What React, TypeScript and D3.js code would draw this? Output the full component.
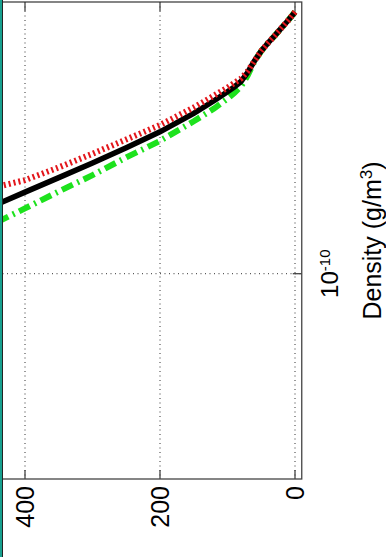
import React from "react";
import * as d3 from "d3";

// altitude (km) and density profiles (g/m^3)
const altitude = [0, 10, 20, 30, 40, 50, 60, 70, 80, 90, 100, 120, 150, 200, 250, 300, 350, 400, 440];
const densityMean = [
  7.45e-10, 6.99e-10, 6.59e-10, 6.21e-10, 5.87e-10, 5.52e-10, 5.12e-10, 4.69e-10, 4.37e-10, 4.19e-10,
  4.04e-10, 3.77e-10, 3.42e-10, 2.97e-10, 2.63e-10, 2.34e-10, 2.09e-10, 1.87e-10, 1.71e-10,
];
const densityHigh = [
  7.45e-10, 6.99e-10, 6.59e-10, 6.21e-10, 5.87e-10, 5.52e-10, 5.12e-10, 4.73e-10, 4.47e-10, 4.32e-10,
  4.17e-10, 3.92e-10, 3.58e-10, 3.13e-10, 2.8e-10, 2.51e-10, 2.26e-10, 2.05e-10, 1.95e-10,
];
const densityLow = [
  7.45e-10, 6.99e-10, 6.59e-10, 6.21e-10, 5.87e-10, 5.52e-10, 5.1e-10, 4.58e-10, 4.21e-10, 4.0e-10,
  3.83e-10, 3.55e-10, 3.22e-10, 2.77e-10, 2.44e-10, 2.13e-10, 1.88e-10, 1.65e-10, 1.49e-10,
];
const altTicks = [0, 200, 400];
const densityTicks = [1e-10];

const W = 386;
const H = 557;
const font = "'Liberation Sans', Arial, Helvetica, sans-serif";

export default function App() {
  // the figure is rotated: altitude runs right-to-left, density bottom-to-top
  const x = d3.scaleLinear().domain([440, -10]).range([-2, 301.75]);
  const y = d3.scaleLog().domain([2.07e-11, 8.04e-10]).range([479, 2]);

  const [x0, x1] = x.range();
  const [y0, y1] = y.range();

  const line = (vals: number[]) =>
    d3.line<number>()
      .x((d, i) => x(altitude[i]))
      .y((d) => y(d))(vals) || "";

  return (
    <div style={{ position: "fixed", left: 0, top: 0 }}>
      <svg width={W} height={H} style={{ display: "block", background: "#fff" }}>
        {/* grid */}
        {altTicks.map((t) => (
          <line key={"gx" + t} x1={x(t)} x2={x(t)} y1={y1} y2={y0}
            stroke="#333" strokeWidth={1} strokeDasharray="1,3.5" />
        ))}
        {densityTicks.map((t) => (
          <line key={"gy" + t} x1={x0} x2={x1} y1={y(t)} y2={y(t)}
            stroke="#333" strokeWidth={1} strokeDasharray="1,3.5" />
        ))}

        {/* curves */}
        <path d={line(densityLow)} fill="none" stroke="#1de21d" strokeWidth={6}
          strokeDasharray="12,5,2,5" />
        <path d={line(densityMean)} fill="none" stroke="#000" strokeWidth={5.5} />
        <path d={line(densityHigh)} fill="none" stroke="#e3161b" strokeWidth={6}
          strokeDasharray="2,3" />

        {/* box */}
        <rect x={x0} y={y1} width={x1 - x0} height={y0 - y1} fill="none" stroke="#444" strokeWidth={1.3} />

        {/* ticks */}
        {altTicks.map((t) => (
          <g key={"t" + t}>
            <line x1={x(t)} x2={x(t)} y1={y0} y2={y0 - 9} stroke="#444" strokeWidth={1.3} />
            <line x1={x(t)} x2={x(t)} y1={y1} y2={y1 + 9} stroke="#444" strokeWidth={1.3} />
            <text transform={`translate(${x(t)},486) rotate(-90)`} textAnchor="end"
              dominantBaseline="central" fontFamily={font} fontSize={25} fill="#000">
              {t}
            </text>
          </g>
        ))}
        {densityTicks.map((t) => (
          <g key={"d" + t}>
            <line x1={x1} x2={x1 - 9} y1={y(t)} y2={y(t)} stroke="#444" strokeWidth={1.3} />
            <text transform={`translate(338,${y(t)}) rotate(-90)`} textAnchor="middle"
              fontFamily={font} fontSize={24} fill="#000">
              10<tspan dy={-8} fontSize={15}>{Math.round(Math.log10(t))}</tspan>
            </text>
          </g>
        ))}

        {/* axis label */}
        <text transform={`translate(381,${(y0 + y1) / 2}) rotate(-90)`} textAnchor="middle"
          fontFamily={font} fontSize={25} fill="#000">
          Density (g/m<tspan dy={-9} fontSize={17}>3</tspan><tspan dy={9}>)</tspan>
        </text>

        {/* image edge */}
        <rect x={0} y={0} width={2} height={H} fill="#17a08f" />
        <line x1={2.5} x2={2.5} y1={0} y2={H} stroke="#222" strokeWidth={1} />
      </svg>
    </div>
  );
}
